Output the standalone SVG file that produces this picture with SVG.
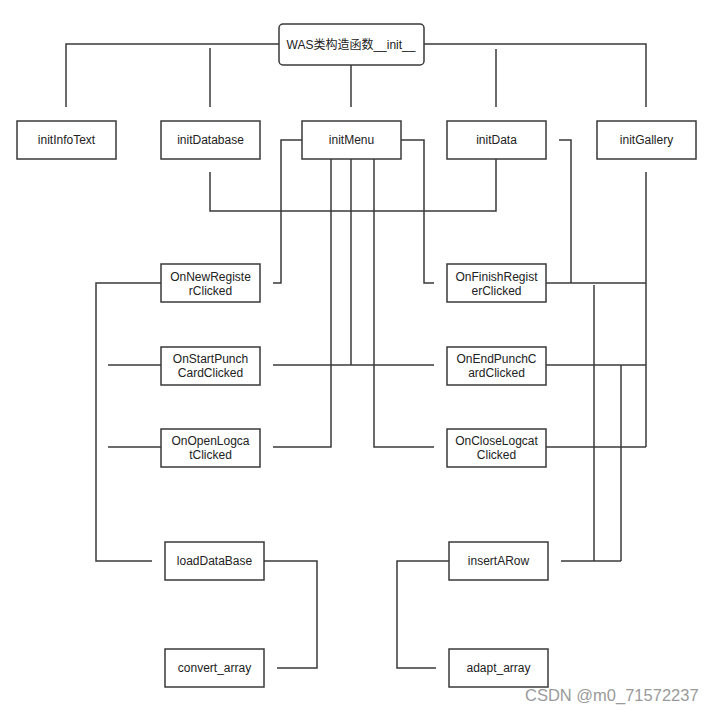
<svg xmlns="http://www.w3.org/2000/svg" width="716" height="713" viewBox="0 0 716 713">
<style>
.box{fill:#fff;stroke:#3a3a3a;stroke-width:1.5}
.t{font-family:"Liberation Sans","Noto Sans CJK SC",sans-serif;font-size:12px;fill:#222;text-anchor:middle}
.c{fill:none;stroke:#3a3a3a;stroke-width:1.5}
.wm{font-family:"Liberation Sans",Arial,sans-serif;font-size:16.5px;fill:#9a9a9a}
</style>
<rect width="716" height="713" fill="#fff"/>
<g id="connectors">
<path class="c" d="M279,44 H66 V107"/>
<path class="c" d="M424,44 H646 V107"/>
<path class="c" d="M210,48 V107"/>
<path class="c" d="M351,65 V107"/>
<path class="c" d="M496,49 V107"/>
<path class="c" d="M210,172 V211 H496 V159"/>
<path class="c" d="M302,140 H281 V283 H273"/>
<path class="c" d="M401,140 H424 V283 H434"/>
<path class="c" d="M331,159 V447 H273"/>
<path class="c" d="M351,159 V365"/>
<path class="c" d="M273,365 H434"/>
<path class="c" d="M374,159 V447 H434"/>
<path class="c" d="M108,365 H161"/>
<path class="c" d="M108,447 H161"/>
<path class="c" d="M161,283 H96 V561 H152"/>
<path class="c" d="M264,561 H317 V668 H277"/>
<path class="c" d="M559,140 H571 V283"/>
<path class="c" d="M646,172 V447"/>
<path class="c" d="M546,283 H646"/>
<path class="c" d="M546,365 H646"/>
<path class="c" d="M546,447 H646"/>
<path class="c" d="M594,285 V561"/>
<path class="c" d="M621,365 V561"/>
<path class="c" d="M561,561 H621"/>
<path class="c" d="M449,561 H397 V668 H436"/>
</g>
<g id="n_init"><rect class="box" x="279" y="24" width="145" height="41" rx="4"/><text class="t" x="351" y="49">WAS类构造函数__init__</text></g>
<g id="n_initInfoText"><rect class="box" x="17" y="121" width="99" height="38"/><text class="t" x="66.5" y="144">initInfoText</text></g>
<g id="n_initDatabase"><rect class="box" x="161" y="121" width="99" height="38"/><text class="t" x="210.5" y="144">initDatabase</text></g>
<g id="n_initMenu"><rect class="box" x="302" y="121" width="99" height="38"/><text class="t" x="351.5" y="144">initMenu</text></g>
<g id="n_initData"><rect class="box" x="447" y="121" width="99" height="38"/><text class="t" x="496.5" y="144">initData</text></g>
<g id="n_initGallery"><rect class="box" x="597" y="121" width="99" height="38"/><text class="t" x="646.5" y="144">initGallery</text></g>
<g id="n_OnNewRegisterClicked"><rect class="box" x="161" y="264" width="99" height="38"/><text class="t" x="210.5" y="281">OnNewRegiste<tspan x="210.5" dy="14">rClicked</tspan></text></g>
<g id="n_OnStartPunchCardClicked"><rect class="box" x="161" y="347" width="99" height="38"/><text class="t" x="210.5" y="363">OnStartPunch<tspan x="210.5" dy="14">CardClicked</tspan></text></g>
<g id="n_OnOpenLogcatClicked"><rect class="box" x="161" y="429" width="99" height="38"/><text class="t" x="210.5" y="445">OnOpenLogca<tspan x="210.5" dy="14">tClicked</tspan></text></g>
<g id="n_OnFinishRegisterClicked"><rect class="box" x="447" y="264" width="99" height="38"/><text class="t" x="496.5" y="281">OnFinishRegist<tspan x="496.5" dy="14">erClicked</tspan></text></g>
<g id="n_OnEndPunchCardClicked"><rect class="box" x="447" y="347" width="99" height="38"/><text class="t" x="496.5" y="363">OnEndPunchC<tspan x="496.5" dy="14">ardClicked</tspan></text></g>
<g id="n_OnCloseLogcatClicked"><rect class="box" x="447" y="429" width="99" height="38"/><text class="t" x="496.5" y="445">OnCloseLogcat<tspan x="496.5" dy="14">Clicked</tspan></text></g>
<g id="n_loadDataBase"><rect class="box" x="165" y="542" width="99" height="38"/><text class="t" x="214.5" y="565">loadDataBase</text></g>
<g id="n_convert_array"><rect class="box" x="165" y="649" width="99" height="38"/><text class="t" x="214.5" y="672">convert_array</text></g>
<g id="n_insertARow"><rect class="box" x="449" y="542" width="99" height="38"/><text class="t" x="498.5" y="565">insertARow</text></g>
<g id="n_adapt_array"><rect class="box" x="449" y="649" width="99" height="38"/><text class="t" x="498.5" y="672">adapt_array</text></g>
<text class="wm" x="525" y="701">CSDN @m0_71572237</text>
</svg>
